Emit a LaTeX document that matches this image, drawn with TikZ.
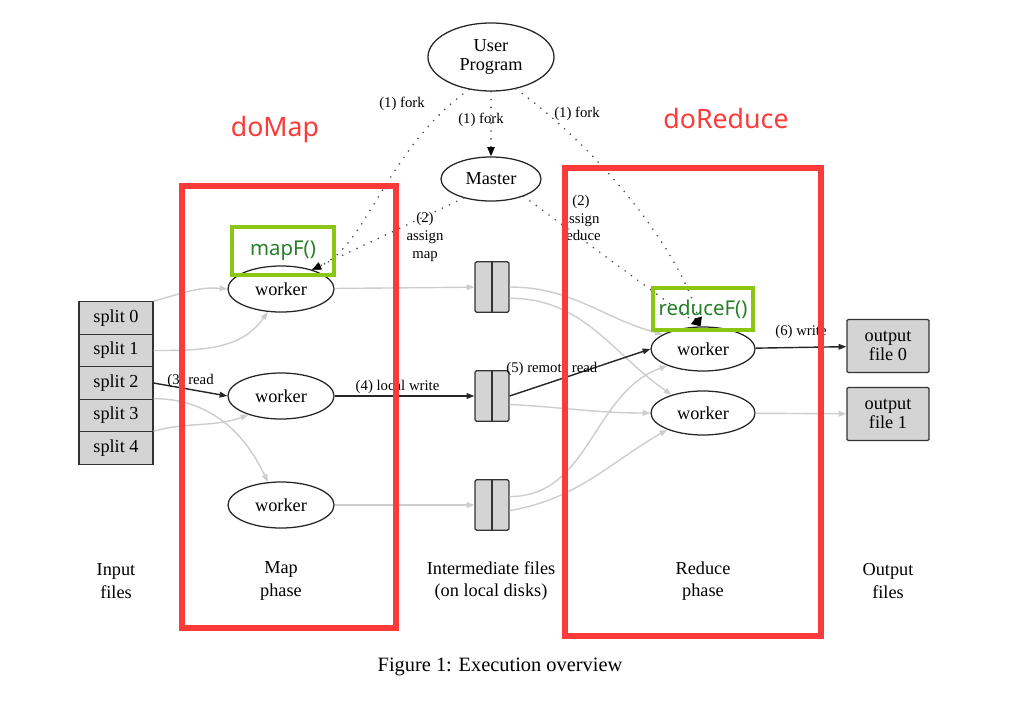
\documentclass[tikz,border=0pt]{standalone}
\usepackage{fontspec}
\setmainfont{Liberation Serif}
\newfontfamily\notefont{Noto Sans}
\usetikzlibrary{arrows.meta, shapes.geometric, positioning}
\definecolor{boxred}{RGB}{252,58,58}
\definecolor{limegreen}{RGB}{140,198,20}
\definecolor{notegreen}{RGB}{38,128,38}
\definecolor{edgegray}{RGB}{205,205,205}
\definecolor{filegray}{RGB}{212,212,212}

\begin{document}
\begin{tikzpicture}[x=0.025cm, y=-0.025cm, >={Triangle[length=5.5pt,width=4pt]},
      font=\fontsize{13}{15}\selectfont, node distance=0.8125cm, on grid,
      worker/.style={ellipse, draw=black!85, line width=0.9pt, minimum width=2.65cm, minimum height=1.15cm, inner sep=0pt},
      split/.style={rectangle, draw=black!80, fill=filegray, line width=0.9pt, minimum width=1.85cm, minimum height=0.8125cm, inner sep=0pt},
      ifile/.style={rectangle, draw=black!80, fill=filegray, line width=0.9pt, rounded corners=1pt, minimum width=0.85cm, minimum height=1.26cm},
      ofile/.style={rectangle, draw=black!80, fill=filegray, line width=0.9pt, rounded corners=1pt, minimum width=2.05cm, minimum height=1.33cm, align=center},
      lbl/.style={font=\fontsize{10.5}{12.5}\selectfont, align=center, inner sep=1pt},
      phase/.style={align=center},
      grayedge/.style={->, draw=edgegray, line width=1pt},
      blackedge/.style={->, draw=black!85, line width=1pt},
      forkedge/.style={-{Triangle[length=6.5pt,width=5pt,black]}, draw=black!70, line width=1.3pt, line cap=round, dash pattern=on 0pt off 5.6pt},
      phasebox/.style={draw=boxred, line width=4.6pt},
      notebox/.style={draw=limegreen, line width=2.2pt, minimum width=2.55cm, text=notegreen, font=\notefont\fontsize{14.5}{16}\selectfont}]
      \useasboundingbox (0,0) rectangle (1017,703);

      % master side
      \node[worker, minimum width=3.15cm, minimum height=1.7cm, align=center] (up) at (491,57) {User\\[-1pt]Program};
      \node[worker, minimum width=2.5cm, minimum height=1.1cm] (master) at (491,179) {Master};

      % input splits
      \node[split] (s0) at (116,318) {split 0};
      \node[split] (s1) [below=of s0] {split 1};
      \node[split] (s2) [below=of s1] {split 2};
      \node[split] (s3) [below=of s2] {split 3};
      \node[split] (s4) [below=of s3] {split 4};

      % map workers
      \node[worker] (m1) at (281,289) {worker};
      \node[worker] (m2) at (281,396) {worker};
      \node[worker] (m3) at (281,505) {worker};

      % intermediate files
      \node[ifile] (f1) at (492,287) {};
      \node[ifile] (f2) at (492,396) {};
      \node[ifile] (f3) at (492,505) {};
      \foreach \f in {f1,f2,f3}
        \draw[black!80, line width=0.9pt] (\f.north) -- (\f.south);

      % reduce workers and output
      \node[worker, minimum width=2.6cm, minimum height=1.1cm] (r1) at (703,349) {worker};
      \node[worker, minimum width=2.6cm, minimum height=1.1cm] (r2) at (703,413) {worker};
      \node[ofile] (o0) at (888,346) {output\\[-2pt]file 0};
      \node[ofile] (o1) at (888,414) {output\\[-2pt]file 1};

      % bottom captions
      \node[phase] (lin)  at (116,581) {Input\\[1pt]files};
      \node[phase] (lmap) at (281,581) {Map\\[1pt]phase};
      \node[phase] (lmid) at (491,581) {Intermediate files\\[1pt](on local disks)};
      \node[phase] (lred) at (703,581) {Reduce\\[1pt]phase};
      \node[phase] (lout) at (888,581) {Output\\[1pt]files};
      \node[font=\fontsize{14.5}{16}\selectfont] (cap) at (500,667) {Figure 1: Execution overview};

      % fork and assign
      \draw[forkedge] (up.-124) .. controls (385,150) and (368,245) .. (m1.32);
      \draw[forkedge] (master.-145) -- (m1.32);
      \draw[forkedge] (up) -- (master);
      \draw[forkedge] (up.-52) .. controls (600,150) and (680,250) .. (r1.96);
      \draw[forkedge] (master.-28) -- (r1.96);
      \node[lbl] (fk1) at (402,104) {(1) fork};
      \node[lbl] (fk2) at (481,120) {(1) fork};
      \node[lbl] (fk3) at (577,114) {(1) fork};
      \node[lbl] (asm) at (425,237) {(2)\\assign\\map};
      \node[lbl] (asr) at (581,218) {(2)\\assign\\reduce};

      % map input
      \path (s0.north east) edge[grayedge, out=15, in=175] (m1.west);
      \path (s1.east) edge[grayedge, out=0, in=-125] (m1.-120);
      \path (s2.east) edge[blackedge] node[lbl, above, pos=0.5] {(3) read} (m2.west);
      \path (s3.north east) edge[grayedge, out=0, in=115] (m3.120);
      \path (s4.north east) edge[grayedge, out=15, in=-160] (m2.-150);

      % map output
      \path (m1) edge[grayedge] (f1);
      \path (m2) edge[blackedge] node[lbl, above, pos=0.45] {(4) local write} (f2);
      \path (m3) edge[grayedge] (f3);

      % shuffle
      \path (f1.east) edge[grayedge, out=0, in=165] (r1.160);
      \path ([yshift=-8pt]f1.east) edge[grayedge, out=0, in=145] (r2.150);
      \path (f2.east) edge[blackedge] node[lbl, above=3pt, pos=0.3] {(5) remote read} (r1.west);
      \path ([yshift=-6pt]f2.east) edge[grayedge, out=-3, in=180] (r2.west);
      \path ([yshift=6pt]f3.east) edge[grayedge, out=0, in=-160] (r1.-155);
      \path ([yshift=-4pt]f3.east) edge[grayedge, out=10, in=-150] (r2.-155);

      % reduce output
      \path (r1) edge[blackedge] node[lbl, above=5pt, pos=0.5] {(6) write} (o0);
      \path (r2) edge[grayedge] (o1);

      % annotations
      \draw[phasebox] (182,186) rectangle (396,628);
      \draw[phasebox] (565,168) rectangle (821,636);
      \node[text=boxred, font=\notefont\fontsize{19}{21}\selectfont] (domap) at (275,130) {doMap};
      \node[text=boxred, font=\notefont\fontsize{19}{21}\selectfont] (doreduce) at (726,118) {doReduce};
      \node[notebox, minimum height=1.2cm] (mapf) at (283,251) {mapF()};
      \node[notebox, minimum width=2.5cm, minimum height=1.05cm] (reducef) at (703,309) {reduceF()};
    \end{tikzpicture}
\end{document}
